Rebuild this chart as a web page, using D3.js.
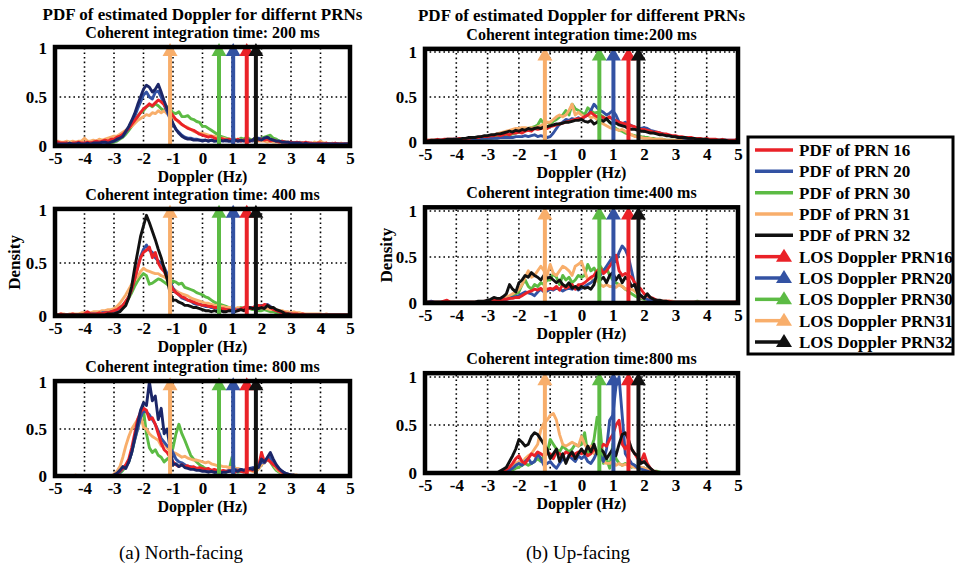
<!DOCTYPE html>
<html><head><meta charset="utf-8">
<script src="https://cdn.jsdelivr.net/npm/d3@7"></script>
<style>body{margin:0;background:#fff}svg{display:block}</style>
</head><body>
<script>
// ---------------- DATA ----------------
const dopplerBins = [-5,-4.9,-4.8,-4.7,-4.6,-4.5,-4.4,-4.3,-4.2,-4.1,
 -4,-3.9,-3.8,-3.7,-3.6,-3.5,-3.4,-3.3,-3.2,-3.1,
 -3,-2.9,-2.8,-2.7,-2.6,-2.5,-2.4,-2.3,-2.2,-2.1,
 -2,-1.9,-1.8,-1.7,-1.6,-1.5,-1.4,-1.3,-1.2,-1.1,
 -1,-0.9,-0.8,-0.7,-0.6,-0.5,-0.4,-0.3,-0.2,-0.1,
 0,0.1,0.2,0.3,0.4,0.5,0.6,0.7,0.8,0.9,
 1,1.1,1.2,1.3,1.4,1.5,1.6,1.7,1.8,1.9,
 2,2.1,2.2,2.3,2.4,2.5,2.6,2.7,2.8,2.9,
 3,3.1,3.2,3.3,3.4,3.5,3.6,3.7,3.8,3.9,
 4,4.1,4.2,4.3,4.4,4.5,4.6,4.7,4.8,4.9,5];
const xTickValues = [-5,-4,-3,-2,-1,0,1,2,3,4,5];
const yTickValues = [0,0.5,1];
const prnNames = ["PRN 16","PRN 20","PRN 30","PRN 31","PRN 32"];
const losNames = ["LOS Doppler PRN16","LOS Doppler PRN20","LOS Doppler PRN30","LOS Doppler PRN31","LOS Doppler PRN32"];
const losNorth = [1.5, 1.04, 0.56, -1.1, 1.81];
const losUp = [1.5, 1.02, 0.57, -1.17, 1.82];
const headerNorth = "PDF of estimated Doppler for differnt PRNs";
const headerUp = "PDF of estimated Doppler for different PRNs";
const titlesNorth = ["Coherent integration time: 200 ms","Coherent integration time: 400 ms","Coherent integration time: 800 ms"];
const titlesUp = ["Coherent integration time:200 ms","Coherent integration time:400 ms","Coherent integration time:800 ms"];
const captions = ["(a) North-facing","(b) Up-facing"];

// North-facing, 200 ms
const n200_16 = [.05,.04,.03,.03,.03,.02,.03,.03,.04,.03,
 .03,.04,.03,.04,.05,.04,.05,.06,.05,.07,
 .07,.09,.10,.12,.15,.18,.22,.26,.30,.34,
 .38,.40,.43,.41,.44,.47,.45,.42,.38,.35,
 .31,.27,.25,.22,.20,.18,.17,.16,.14,.12,
 .11,.10,.09,.10,.08,.07,.08,.07,.06,.07,
 .06,.05,.07,.05,.06,.04,.05,.06,.08,.06,
 .07,.06,.07,.05,.06,.05,.04,.05,.04,.04,
 .04,.03,.04,.03,.03,.04,.03,.03,.02,.03,
 .03,.02,.03,.02,.02,.03,.02,.02,.02,.02,.02];
const n200_20 = [.02,.02,.02,.02,.03,.02,.02,.03,.02,.02,
 .03,.02,.03,.03,.03,.04,.03,.04,.04,.05,
 .05,.06,.08,.10,.14,.18,.24,.30,.38,.45,
 .52,.55,.50,.48,.55,.56,.50,.42,.35,.28,
 .22,.17,.14,.11,.09,.08,.08,.07,.07,.06,
 .06,.06,.05,.06,.05,.06,.05,.06,.05,.05,
 .05,.06,.05,.05,.06,.07,.06,.05,.07,.08,
 .07,.08,.07,.06,.06,.05,.05,.04,.04,.03,
 .04,.03,.03,.03,.03,.02,.03,.02,.02,.02,
 .02,.02,.02,.02,.02,.02,.02,.01,.02,.02,.02];
const n200_30 = [.01,.01,.01,.01,.01,.01,.01,.02,.01,.02,
 .02,.02,.02,.02,.02,.03,.03,.02,.03,.03,
 .04,.05,.07,.09,.12,.16,.20,.26,.30,.34,
 .36,.40,.42,.40,.43,.41,.38,.36,.40,.38,
 .34,.33,.35,.30,.30,.31,.28,.27,.25,.24,
 .20,.20,.18,.16,.14,.12,.10,.09,.08,.07,
 .06,.07,.06,.08,.07,.09,.07,.06,.07,.06,
 .08,.09,.10,.11,.08,.07,.05,.05,.04,.04,
 .03,.03,.03,.02,.03,.02,.02,.02,.02,.02,
 .02,.02,.02,.02,.02,.01,.02,.01,.01,.02,.01];
const n200_31 = [.04,.05,.04,.04,.05,.04,.05,.04,.05,.05,
 .08,.05,.05,.06,.05,.07,.06,.07,.08,.09,
 .10,.10,.12,.14,.16,.18,.20,.23,.26,.28,
 .30,.32,.31,.34,.33,.36,.34,.36,.33,.30,
 .28,.27,.24,.22,.20,.19,.17,.15,.14,.13,
 .13,.12,.11,.10,.10,.09,.08,.08,.07,.07,
 .07,.06,.07,.06,.06,.05,.05,.06,.05,.05,
 .05,.05,.04,.05,.04,.04,.04,.03,.04,.03,
 .04,.03,.03,.04,.03,.03,.03,.02,.04,.03,
 .05,.03,.03,.02,.03,.02,.02,.03,.02,.02,.02];
const n200_32 = [.02,.02,.02,.02,.02,.03,.02,.02,.03,.02,
 .02,.03,.02,.03,.03,.03,.04,.04,.03,.04,
 .05,.07,.08,.10,.15,.20,.26,.33,.42,.50,
 .58,.62,.60,.55,.58,.63,.55,.46,.38,.30,
 .23,.17,.13,.10,.08,.07,.07,.06,.06,.06,
 .05,.06,.05,.06,.05,.05,.06,.05,.06,.05,
 .05,.06,.05,.06,.05,.06,.05,.06,.09,.07,
 .06,.08,.09,.07,.06,.05,.05,.04,.04,.04,
 .03,.03,.03,.03,.02,.03,.02,.02,.02,.02,
 .02,.02,.02,.02,.02,.02,.02,.02,.02,.02,.02];

// North-facing, 400 ms
const n400_16 = [.01,.01,.02,.01,.01,.01,.02,.01,.01,.01,
 .02,.04,.02,.02,.02,.03,.02,.03,.03,.04,
 .05,.06,.08,.10,.14,.18,.25,.35,.45,.55,
 .60,.62,.65,.55,.60,.50,.45,.42,.36,.30,
 .25,.22,.20,.18,.17,.15,.14,.13,.12,.11,
 .10,.10,.09,.09,.08,.08,.07,.07,.06,.06,
 .05,.06,.05,.07,.08,.09,.07,.08,.09,.10,
 .09,.11,.10,.08,.06,.05,.04,.03,.03,.02,
 .02,.02,.02,.01,.02,.01,.01,.01,.01,.01,
 .01,.01,.01,.01,.01,.01,.01,.01,.01,.01,.01];
const n400_20 = [.01,.01,.01,.01,.01,.01,.01,.01,.01,.01,
 .01,.02,.02,.02,.02,.02,.03,.03,.03,.04,
 .04,.05,.07,.10,.13,.18,.25,.35,.46,.56,
 .63,.67,.62,.60,.55,.52,.50,.46,.40,.33,
 .26,.22,.20,.17,.16,.15,.14,.12,.11,.11,
 .10,.09,.09,.08,.08,.07,.07,.06,.06,.05,
 .05,.05,.06,.06,.07,.07,.08,.08,.09,.09,
 .10,.10,.11,.09,.07,.05,.04,.03,.02,.02,
 .02,.01,.01,.01,.01,.01,.01,.01,.01,.01,
 .01,.01,.01,.01,.01,.01,.01,.01,.01,.01,.01];
const n400_30 = [.01,.01,.01,.01,.01,.01,.01,.01,.01,.01,
 .01,.01,.02,.02,.02,.02,.02,.03,.03,.03,
 .04,.05,.07,.10,.13,.17,.22,.28,.33,.37,
 .40,.38,.30,.31,.33,.35,.34,.32,.30,.28,
 .33,.32,.30,.31,.27,.26,.25,.24,.22,.21,
 .20,.18,.17,.15,.13,.12,.11,.10,.09,.08,
 .08,.07,.07,.08,.07,.08,.07,.06,.06,.05,
 .05,.06,.05,.04,.04,.03,.03,.02,.02,.02,
 .02,.01,.01,.02,.01,.01,.01,.01,.01,.01,
 .01,.01,.01,.01,.01,.01,.01,.01,.01,.01,.01];
const n400_31 = [.02,.01,.02,.02,.01,.02,.02,.02,.02,.03,
 .03,.03,.03,.04,.04,.04,.05,.05,.06,.06,
 .07,.09,.12,.16,.20,.25,.30,.33,.37,.42,
 .45,.43,.42,.41,.40,.40,.38,.37,.35,.30,
 .26,.24,.22,.21,.20,.19,.17,.16,.15,.14,
 .13,.12,.12,.11,.10,.10,.09,.09,.08,.08,
 .08,.07,.08,.07,.07,.08,.07,.07,.08,.08,
 .08,.07,.07,.06,.06,.06,.05,.05,.04,.04,
 .03,.04,.03,.03,.02,.02,.02,.02,.02,.02,
 .02,.01,.02,.01,.01,.01,.01,.01,.01,.01,.01];
const n400_32 = [.01,.01,.01,.01,.01,.01,.01,.01,.01,.01,
 .01,.01,.01,.01,.01,.01,.01,.01,.02,.02,
 .02,.03,.04,.07,.10,.17,.28,.45,.60,.75,
 .85,.95,.88,.80,.72,.63,.55,.45,.35,.22,
 .15,.15,.13,.12,.10,.10,.09,.08,.08,.07,
 .06,.05,.05,.04,.05,.04,.05,.04,.04,.05,
 .05,.04,.05,.06,.05,.07,.08,.07,.08,.07,
 .08,.07,.10,.08,.08,.06,.05,.04,.02,.02,
 .01,.01,.01,.01,.01,.01,.01,.01,.01,.01,
 .01,.01,.01,.01,.01,.01,.01,.01,.01,.01,.01];

// North-facing, 800 ms
const n800_16 = [0,0,0,0,0,0,0,0,0,0,
 0,0,0,0,0,0,0,0,0,0,
 .01,.02,.05,.08,.12,.18,.30,.45,.60,.68,
 .72,.70,.60,.62,.55,.45,.35,.28,.25,.20,
 .15,.12,.10,.12,.10,.11,.09,.10,.08,.09,
 .08,.07,.08,.06,.07,.06,.05,.06,.05,.05,
 .05,.04,.06,.05,.04,.06,.07,.06,.08,.10,
 .25,.15,.18,.15,.12,.10,.06,.04,.02,.01,
 0,0,0,0,0,0,0,0,0,0,
 0,0,0,0,0,0,0,0,0,0,0];
const n800_20 = [0,0,0,0,0,0,0,0,0,0,
 0,0,0,0,0,0,0,0,0,0,
 .01,.02,.04,.08,.10,.15,.25,.38,.50,.62,
 .70,.68,.65,.60,.55,.48,.40,.36,.32,.30,
 .25,.18,.15,.14,.12,.10,.10,.09,.08,.07,
 .06,.06,.05,.05,.04,.05,.04,.05,.05,.06,
 .06,.07,.06,.07,.06,.07,.08,.09,.08,.10,
 .15,.14,.18,.20,.15,.10,.07,.05,.03,.02,
 .01,0,0,0,0,0,0,0,0,0,
 0,0,0,0,0,0,0,0,0,0,0];
const n800_30 = [0,0,0,0,0,0,0,0,0,0,
 0,0,0,0,0,0,0,0,0,0,
 .01,.02,.03,.06,.10,.15,.25,.38,.50,.62,
 .70,.45,.30,.25,.28,.22,.20,.15,.18,.20,
 .30,.45,.55,.45,.38,.30,.22,.18,.15,.12,
 .10,.08,.07,.06,.05,.05,.04,.05,.04,.06,
 .20,.05,.04,.05,.06,.05,.06,.07,.06,.08,
 .12,.15,.18,.15,.10,.06,.04,.02,.01,.01,
 0,0,0,0,0,0,0,0,0,0,
 0,0,0,0,0,0,0,0,0,0,0];
const n800_31 = [0,0,0,0,0,0,0,.01,0,0,
 0,0,0,0,0,0,0,0,0,0,
 .02,.05,.10,.20,.32,.42,.50,.55,.60,.65,
 .52,.50,.45,.42,.40,.38,.32,.35,.30,.27,
 .25,.24,.22,.20,.21,.19,.18,.17,.17,.16,
 .15,.14,.15,.13,.12,.11,.11,.10,.10,.09,
 .09,.08,.08,.07,.06,.05,.06,.05,.04,.08,
 .12,.15,.18,.16,.12,.08,.05,.03,.02,.02,
 .01,.01,.01,0,0,0,0,0,0,0,
 0,0,0,0,0,0,0,0,0,0,0];
const n800_32 = [0,0,0,0,0,0,0,0,0,0,
 0,0,0,0,0,0,0,0,0,0,
 .01,.03,.06,.10,.08,.15,.25,.40,.55,.70,
 .78,.75,1.0,.80,.85,.60,.72,.45,.50,.30,
 .12,.13,.10,.12,.09,.08,.07,.07,.06,.06,
 .05,.05,.04,.05,.04,.04,.03,.04,.04,.05,
 .05,.06,.05,.07,.06,.07,.08,.07,.10,.09,
 .18,.15,.20,.25,.18,.12,.08,.05,.03,.02,
 .01,.01,0,0,0,0,0,0,0,0,
 0,0,0,0,0,0,0,0,0,0,0];

// Up-facing, 200 ms
const u200_16 = [.02,.02,.02,.02,.03,.02,.03,.03,.03,.03,
 .03,.04,.03,.04,.04,.05,.05,.05,.06,.06,
 .06,.07,.07,.08,.07,.08,.09,.08,.10,.10,
 .11,.10,.12,.13,.12,.15,.14,.15,.16,.15,
 .17,.18,.19,.20,.21,.22,.23,.24,.25,.26,
 .26,.28,.30,.33,.30,.28,.29,.27,.26,.28,
 .25,.24,.22,.21,.20,.19,.18,.17,.15,.14,
 .14,.13,.12,.11,.11,.10,.09,.09,.08,.07,
 .07,.06,.06,.05,.05,.05,.04,.04,.04,.03,
 .04,.03,.03,.03,.02,.03,.02,.02,.02,.02,.04];
const u200_20 = [.01,.01,.01,.01,.02,.02,.02,.02,.02,.03,
 .03,.03,.03,.03,.03,.03,.03,.03,.04,.04,
 .04,.04,.04,.04,.05,.05,.05,.05,.05,.06,
 .06,.06,.07,.06,.07,.08,.06,.07,.06,.05,
 .06,.10,.15,.20,.22,.25,.24,.26,.25,.27,
 .25,.28,.30,.35,.42,.38,.35,.33,.30,.32,
 .35,.30,.22,.20,.22,.20,.18,.16,.15,.15,
 .16,.15,.13,.12,.11,.10,.09,.08,.07,.06,
 .06,.05,.05,.04,.04,.03,.03,.03,.02,.02,
 .02,.02,.02,.02,.02,.02,.02,.02,.02,.02,.02];
const u200_30 = [.01,.01,.01,.01,.01,.01,.01,.01,.01,.01,
 .01,.01,.02,.02,.02,.02,.03,.03,.03,.03,
 .04,.04,.05,.05,.06,.06,.07,.08,.09,.10,
 .11,.12,.13,.15,.16,.17,.19,.25,.20,.22,
 .20,.23,.25,.28,.30,.35,.30,.42,.37,.35,
 .33,.30,.38,.35,.32,.33,.30,.28,.25,.22,
 .18,.15,.13,.12,.10,.09,.08,.07,.06,.06,
 .05,.05,.04,.04,.03,.03,.03,.02,.02,.02,
 .02,.02,.02,.01,.01,.01,.01,.01,.01,.01,
 .01,.01,.01,.01,.01,.01,.01,.01,.01,.01,.01];
const u200_31 = [.02,.02,.02,.02,.02,.02,.02,.02,.02,.02,
 .02,.03,.03,.03,.04,.04,.04,.05,.05,.06,
 .06,.07,.08,.09,.10,.11,.12,.13,.14,.15,
 .15,.16,.16,.15,.16,.15,.17,.18,.20,.22,
 .22,.25,.28,.30,.28,.30,.35,.42,.30,.33,
 .30,.28,.30,.27,.28,.25,.22,.20,.18,.16,
 .15,.14,.13,.14,.12,.10,.08,.06,.06,.05,
 .04,.04,.04,.03,.03,.03,.03,.02,.02,.02,
 .02,.02,.02,.02,.02,.02,.02,.02,.02,.02,
 .02,.02,.01,.01,.01,.01,.01,.01,.01,.01,.01];
const u200_32 = [.01,.01,.02,.02,.02,.02,.02,.03,.03,.03,
 .03,.03,.04,.04,.05,.05,.05,.06,.06,.07,
 .07,.08,.08,.09,.09,.10,.11,.12,.11,.13,
 .12,.14,.13,.15,.14,.15,.16,.15,.17,.17,
 .18,.19,.20,.20,.21,.22,.22,.23,.24,.24,
 .25,.23,.22,.24,.20,.22,.25,.23,.26,.22,
 .20,.21,.19,.18,.17,.15,.14,.14,.13,.12,
 .12,.11,.10,.10,.09,.08,.08,.07,.07,.06,
 .06,.05,.05,.05,.04,.04,.04,.03,.03,.03,
 .03,.02,.02,.02,.02,.02,.02,.01,.01,.01,.01];

// Up-facing, 400 ms
const u400_16 = [.01,.01,.01,.01,.01,.01,.02,.03,.01,.01,
 .01,.01,.01,.01,.01,.01,.01,.01,.01,.02,
 .02,.02,.03,.03,.03,.04,.04,.05,.05,.06,
 .06,.08,.10,.12,.13,.15,.14,.16,.13,.15,
 .16,.15,.18,.14,.20,.16,.18,.20,.15,.20,
 .20,.22,.25,.28,.30,.35,.38,.32,.35,.40,
 .45,.52,.35,.30,.32,.30,.28,.22,.18,.15,
 .10,.08,.06,.05,.03,.02,.02,.02,.02,.01,
 .01,.01,.01,.01,.01,.01,.01,.01,.01,.01,
 .01,.01,.01,.01,.01,.01,.01,.01,.01,.01,.02];
const u400_20 = [.01,.01,.02,.01,.01,.01,.01,.01,.01,.01,
 .01,.01,.01,.01,.01,.01,.01,.01,.01,.01,
 .01,.01,.01,.02,.02,.03,.04,.05,.06,.07,
 .08,.10,.12,.11,.10,.08,.12,.15,.12,.13,
 .15,.14,.16,.15,.13,.15,.16,.15,.17,.14,
 .16,.18,.20,.22,.25,.28,.30,.35,.40,.45,
 .50,.45,.55,.62,.58,.50,.35,.20,.12,.08,
 .05,.04,.03,.02,.02,.02,.01,.01,.01,.01,
 .01,.01,.01,.01,.01,.01,.01,.01,.01,.01,
 .01,.01,.01,.01,.01,.01,.01,.01,.01,.01,.01];
const u400_30 = [.01,.01,.01,.01,.01,.01,.01,.01,.01,.01,
 .01,.01,.01,.01,.01,.01,.01,.01,.01,.01,
 .01,.01,.02,.02,.03,.04,.05,.06,.08,.10,
 .12,.20,.25,.18,.15,.20,.18,.22,.20,.25,
 .25,.32,.28,.20,.30,.25,.28,.22,.25,.30,
 .28,.30,.42,.35,.38,.32,.40,.35,.38,.30,
 .25,.22,.20,.18,.15,.13,.10,.08,.06,.05,
 .04,.03,.03,.02,.02,.01,.01,.01,.01,.01,
 .01,.01,.01,.01,.01,.01,.01,.02,.01,.01,
 .01,.01,.01,.01,.01,.01,.01,.01,.01,.01,.01];
const u400_31 = [.01,.01,.01,.01,.01,.01,.01,.01,.01,.01,
 .01,.01,.01,.01,.01,.01,.01,.01,.01,.01,
 .01,.02,.02,.03,.04,.05,.06,.08,.10,.12,
 .15,.20,.28,.35,.28,.30,.35,.40,.35,.30,
 .42,.32,.30,.35,.40,.38,.35,.30,.40,.42,
 .45,.35,.25,.28,.22,.25,.20,.18,.20,.18,
 .18,.17,.20,.18,.15,.16,.15,.13,.10,.06,
 .05,.04,.03,.03,.02,.02,.02,.02,.02,.02,
 .01,.01,.01,.01,.01,.01,.01,.01,.01,.01,
 .01,.01,.01,.01,.01,.01,.01,.01,.01,.01,.01];
const u400_32 = [.01,.01,.01,.01,.01,.01,.01,.01,.01,.01,
 .01,.01,.01,.01,.01,.01,.01,.02,.02,.02,
 .03,.04,.06,.05,.05,.07,.10,.20,.15,.12,
 .22,.25,.30,.28,.33,.30,.28,.25,.30,.27,
 .28,.25,.22,.25,.20,.18,.22,.16,.18,.15,
 .18,.16,.17,.15,.20,.33,.25,.28,.22,.30,
 .33,.25,.30,.22,.28,.25,.18,.20,.10,.08,
 .05,.10,.06,.04,.03,.03,.02,.02,.01,.01,
 .01,.01,.01,.01,.01,.01,.01,.01,.01,.01,
 .01,.01,.01,.01,.01,.01,.01,.01,.01,.01,.01];

// Up-facing, 800 ms
const u800_16 = [0,0,0,0,0,0,0,0,0,0,
 0,0,0,0,0,0,0,0,0,0,
 0,0,0,0,.01,.02,.04,.06,.10,.15,
 .18,.12,.10,.15,.20,.18,.22,.20,.18,.20,
 .20,.15,.22,.20,.18,.22,.20,.18,.20,.22,
 .20,.22,.18,.20,.25,.22,.25,.30,.28,.35,
 .40,.50,.55,.30,.25,.30,.25,.20,.15,.12,
 .20,.10,.05,.02,.01,0,0,0,0,0,
 0,0,0,0,0,0,0,0,0,0,
 0,0,0,0,0,0,0,0,0,0,0];
const u800_20 = [0,0,0,0,0,0,0,0,0,0,
 0,0,0,0,0,0,0,0,0,0,
 0,0,0,0,0,.01,.02,.03,.05,.08,
 .10,.08,.12,.15,.10,.12,.20,.15,.08,.10,
 .12,.08,.05,.10,.15,.12,.18,.15,.12,.18,
 .15,.18,.12,.10,.15,.22,.18,.12,.25,.55,
 .60,.90,1.0,.60,.20,.15,.10,.08,.05,.04,
 .03,.02,.01,0,0,0,0,0,0,0,
 0,0,0,0,0,0,0,0,0,0,
 0,0,0,0,0,0,0,0,0,0,0];
const u800_30 = [0,0,0,0,0,0,0,0,0,0,
 0,0,0,0,0,0,0,0,0,0,
 0,0,0,0,0,0,.01,.02,.03,.05,
 .06,.08,.10,.08,.10,.12,.15,.12,.18,.20,
 .35,.30,.25,.22,.28,.25,.22,.25,.30,.28,
 .30,.42,.20,.25,.35,.58,.45,.10,.15,.05,
 .30,.15,.10,.08,.10,.08,.06,.08,.05,.04,
 .05,.04,.03,.02,.02,.01,0,0,0,0,
 0,0,0,0,0,0,0,0,0,0,
 0,0,0,0,0,0,0,0,0,0,0];
const u800_31 = [0,0,0,0,0,0,0,0,0,0,
 0,0,0,0,0,0,0,0,0,0,
 0,0,0,0,0,.02,.03,.05,.08,.10,
 .12,.10,.15,.18,.20,.25,.30,.45,.52,.55,
 .60,.62,.55,.40,.30,.28,.30,.32,.30,.28,
 .38,.30,.25,.28,.20,.22,.15,.12,.10,.10,
 .12,.08,.10,.08,.09,.08,.07,.06,.05,.06,
 .05,.04,.03,.02,.01,0,0,0,0,0,
 0,0,0,0,0,0,0,0,0,0,
 0,0,0,0,0,0,0,0,0,0,0];
const u800_32 = [0,0,0,0,0,0,0,0,0,0,
 0,0,0,0,0,0,0,0,0,0,
 0,0,0,0,.02,.04,.06,.12,.18,.25,
 .35,.32,.28,.30,.38,.42,.40,.35,.30,.25,
 .15,.20,.25,.12,.20,.10,.18,.22,.15,.20,
 .25,.20,.28,.22,.30,.20,.25,.22,.15,.20,
 .25,.18,.30,.40,.42,.35,.25,.20,.18,.10,
 .12,.08,.05,.02,.01,0,0,0,0,0,
 0,0,0,0,0,0,0,0,0,0,
 0,0,0,0,0,0,0,0,0,0,0];

const north200 = [n200_16, n200_20, n200_30, n200_31, n200_32];
const north400 = [n400_16, n400_20, n400_30, n400_31, n400_32];
const north800 = [n800_16, n800_20, n800_30, n800_31, n800_32];
const up200 = [u200_16, u200_20, u200_30, u200_31, u200_32];
const up400 = [u400_16, u400_20, u400_30, u400_31, u400_32];
const up800 = [u800_16, u800_20, u800_30, u800_31, u800_32];

// ---------------- STYLE / LAYOUT ----------------
const colors = ["#ea2228", "#3352a3", "#5cbb44", "#f8ae6b", "#111111"];
const navy = "#1b2668";
const font = '"Liberation Serif", "Times New Roman", serif';
const drawOrder = [2, 3, 1, 0, 4];

const panels = [
  {series: north200, los: losNorth, title: titlesNorth[0], header: headerNorth, x0: 55, x1: 350, yZero: 146, yOne: 48, yMax: 1.01, last: navy},
  {series: north400, los: losNorth, title: titlesNorth[1], x0: 55, x1: 350, yZero: 316, yOne: 210, yMax: 1.01, last: colors[4], ylabel: true, ylabelX: 14},
  {series: north800, los: losNorth, title: titlesNorth[2], x0: 55, x1: 350, yZero: 476, yOne: 382, yMax: 1.01, last: navy},
  {series: up200, los: losUp, title: titlesUp[0], header: headerUp, x0: 425, x1: 738, yZero: 142, yOne: 52, yMax: 1.035, last: colors[4]},
  {series: up400, los: losUp, title: titlesUp[1], x0: 425, x1: 738, yZero: 303, yOne: 211, yMax: 1.04, last: colors[4], ylabel: true, ylabelX: 386},
  {series: up800, los: losUp, title: titlesUp[2], x0: 425, x1: 738, yZero: 473, yOne: 377, yMax: 1.04, last: colors[4]}
];

const svg = d3.select("body").append("svg").attr("width", 955).attr("height", 577)
  .style("font-family", font);

panels.forEach(p => {
  const x = d3.scaleLinear().domain([-5, 5]).range([p.x0, p.x1]);
  const y = d3.scaleLinear().domain([0, 1]).range([p.yZero, p.yOne]);
  const g = svg.append("g");
  const yTop = y(p.yMax);

  // grid
  g.append("g").selectAll("line").data(xTickValues.slice(1, -1)).join("line")
    .attr("x1", d => x(d)).attr("x2", d => x(d)).attr("y1", y(0)).attr("y2", yTop)
    .attr("stroke", "#000").attr("stroke-width", 1.6).attr("stroke-dasharray", "1.6,3");
  g.append("g").selectAll("line").data(yTickValues.slice(1)).join("line")
    .attr("x1", p.x0).attr("x2", p.x1).attr("y1", d => y(d)).attr("y2", d => y(d))
    .attr("stroke", "#000").attr("stroke-width", 1.6).attr("stroke-dasharray", "1.6,3");

  // PDF lines
  const line = d3.line().x(d => x(d[0])).y(d => y(d[1]));
  drawOrder.forEach(k => {
    const pts = p.series[k].map((v, i) => [dopplerBins[i], v]);
    g.append("path").datum(pts).attr("d", line).attr("fill", "none")
      .attr("stroke", k === 4 ? p.last : colors[k]).attr("stroke-width", 2.9)
      .attr("stroke-linejoin", "round");
  });

  // LOS arrows
  const tipY = y(1.05);
  [3, 2, 1, 0, 4].forEach(k => {
    const ax = x(p.los[k]);
    g.append("line").attr("x1", ax).attr("x2", ax).attr("y1", y(0)).attr("y2", tipY + 11)
      .attr("stroke", colors[k]).attr("stroke-width", 4);
    g.append("path").attr("d", `M${ax},${tipY}L${ax - 7.5},${tipY + 13}L${ax + 7.5},${tipY + 13}Z`)
      .attr("fill", colors[k]);
  });

  // frame
  g.append("rect").attr("x", p.x0).attr("y", yTop).attr("width", p.x1 - p.x0).attr("height", y(0) - yTop)
    .attr("fill", "none").attr("stroke", "#000").attr("stroke-width", 4.5);

  // axes
  const xa = g.append("g").attr("transform", `translate(0,${y(0)})`)
    .call(d3.axisBottom(x).tickValues(xTickValues).tickSize(0).tickPadding(0).tickFormat(d => String(d)));
  const ya = g.append("g").attr("transform", `translate(${p.x0},0)`)
    .call(d3.axisLeft(y).tickValues(yTickValues).tickSize(0).tickPadding(8).tickFormat(d3.format("~g")));
  [xa, ya].forEach(a => {
    a.select(".domain").remove();
    a.selectAll("text").attr("font-family", font).attr("font-size", 17).attr("font-weight", "bold").attr("fill", "#000");
  });
  xa.selectAll("text").attr("y", 18).attr("dy", null);

  const cx = (p.x0 + p.x1) / 2;
  g.append("text").attr("x", cx).attr("y", y(0) + 36).attr("text-anchor", "middle")
    .attr("font-size", 16).attr("font-weight", "bold").text("Doppler (Hz)");
  g.append("text").attr("x", cx).attr("y", yTop - 9).attr("text-anchor", "middle")
    .attr("font-size", 16).attr("font-weight", "bold").text(p.title);
  if (p.header) {
    g.append("text").attr("x", cx).attr("y", yTop - 27.5).attr("text-anchor", "middle")
      .attr("font-size", 17).attr("font-weight", "bold").text(p.header);
  }
  if (p.ylabel) {
    const my = (y(0) + yTop) / 2;
    g.append("text").attr("transform", `translate(${p.ylabelX + 6},${my}) rotate(-90)`)
      .attr("text-anchor", "middle").attr("font-size", 17).attr("font-weight", "bold").text("Density");
  }
});

// legend
const lg = svg.append("g");
lg.append("rect").attr("x", 748).attr("y", 137).attr("width", 205).attr("height", 217)
  .attr("fill", "#fff").attr("stroke", "#000").attr("stroke-width", 3);
const rowY = d3.scaleLinear().domain([0, 9]).range([150, 342]);
prnNames.forEach((n, k) => {
  const ry = rowY(k);
  lg.append("line").attr("x1", 755).attr("x2", 793).attr("y1", ry).attr("y2", ry)
    .attr("stroke", colors[k]).attr("stroke-width", 3.5);
  lg.append("text").attr("x", 799).attr("y", ry + 6).attr("font-size", 17).attr("font-weight", "bold").text("PDF of " + n);
});
losNames.forEach((n, k) => {
  const ry = rowY(k + 5);
  lg.append("line").attr("x1", 755).attr("x2", 785).attr("y1", ry).attr("y2", ry)
    .attr("stroke", colors[k]).attr("stroke-width", 3.5);
  lg.append("path").attr("d", `M${784},${ry - 8}L${776},${ry + 5}L${792},${ry + 5}Z`).attr("fill", colors[k]);
  lg.append("text").attr("x", 799).attr("y", ry + 6).attr("font-size", 17).attr("font-weight", "bold").text(n);
});

// captions
svg.append("text").attr("x", 181).attr("y", 559).attr("text-anchor", "middle").attr("font-size", 19).text(captions[0]);
svg.append("text").attr("x", 578).attr("y", 559).attr("text-anchor", "middle").attr("font-size", 19).text(captions[1]);
</script>
</body></html>
